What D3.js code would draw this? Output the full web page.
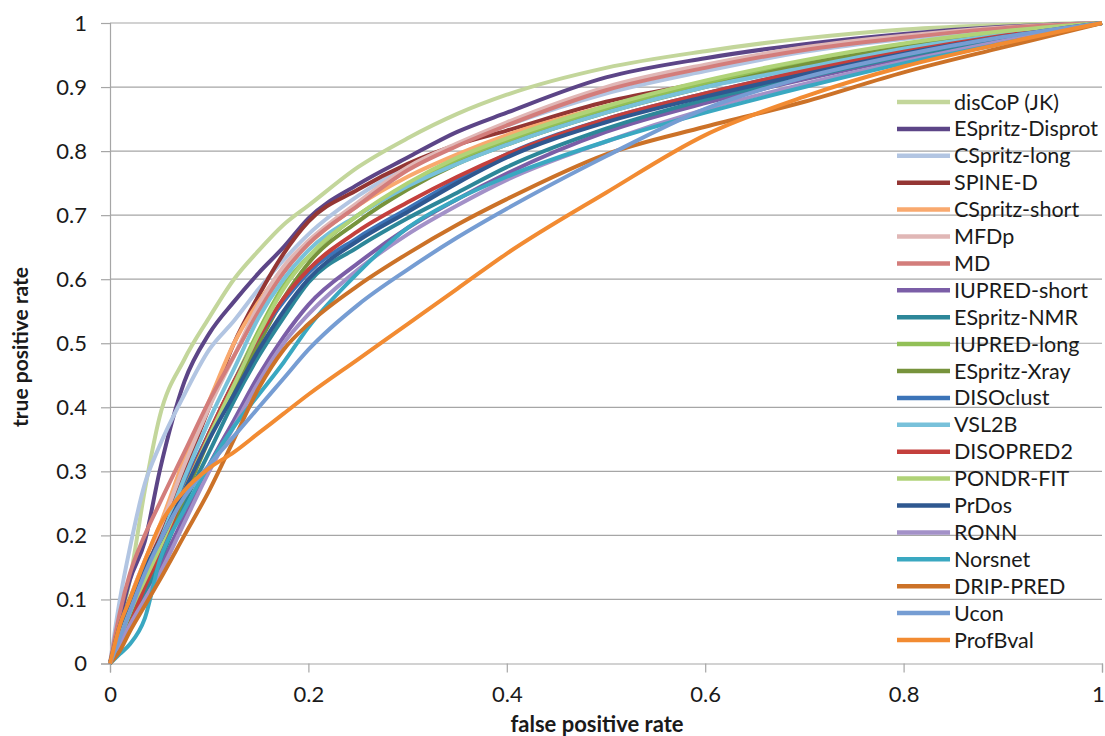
<!DOCTYPE html>
<html>
<head>
<meta charset="utf-8">
<script src="https://cdn.jsdelivr.net/npm/d3@7"></script>
<style>
  body { margin: 0; background: #fff; }
  text { font-family: Lato, "Open Sans", sans-serif; fill: #1a1a1a; }
</style>
</head>
<body>
<div id="chart"></div>
<script>
// false positive rate sample points shared by every curve
const fpr = [0, 0.01, 0.02, 0.035, 0.05, 0.075, 0.1, 0.125, 0.15, 0.175, 0.2, 0.25, 0.3, 0.35, 0.4, 0.5, 0.6, 0.7, 0.8, 0.9, 1];

const names = ["disCoP (JK)", "ESpritz-Disprot", "CSpritz-long", "SPINE-D", "CSpritz-short", "MFDp", "MD",
  "IUPRED-short", "ESpritz-NMR", "IUPRED-long", "ESpritz-Xray", "DISOclust", "VSL2B", "DISOPRED2",
  "PONDR-FIT", "PrDos", "RONN", "Norsnet", "DRIP-PRED", "Ucon", "ProfBval"];

const colors = ["#c3d69b", "#5c4587", "#b2c5e2", "#943634", "#f9a96e", "#e0b7b6", "#d37d7b",
  "#7b5ea7", "#2d8799", "#92c057", "#77933c", "#3c74b8", "#78c1da", "#c4403d",
  "#b0d378", "#2f5890", "#a391c8", "#3aa8c1", "#cc7228", "#769dd3", "#f28b32"];

// true positive rate per method, one value per fpr point
const disCoP        = [0, 0.06, 0.13, 0.27, 0.385, 0.475, 0.54, 0.6, 0.645, 0.685, 0.715, 0.775, 0.82, 0.858, 0.888, 0.93, 0.956, 0.976, 0.99, 0.997, 1];
const espritzDisprot= [0, 0.07, 0.13, 0.19, 0.3, 0.44, 0.515, 0.565, 0.61, 0.65, 0.695, 0.748, 0.79, 0.83, 0.86, 0.915, 0.945, 0.967, 0.983, 0.994, 1];
const cspritzLong   = [0, 0.1, 0.18, 0.28, 0.34, 0.42, 0.49, 0.535, 0.585, 0.63, 0.67, 0.73, 0.775, 0.81, 0.84, 0.89, 0.925, 0.955, 0.975, 0.99, 1];
const spineD        = [0, 0.04, 0.08, 0.14, 0.2, 0.3, 0.4, 0.5, 0.575, 0.64, 0.69, 0.74, 0.78, 0.81, 0.832, 0.877, 0.907, 0.936, 0.96, 0.982, 1];
const cspritzShort  = [0, 0.05, 0.1, 0.16, 0.215, 0.32, 0.41, 0.5, 0.565, 0.615, 0.655, 0.715, 0.76, 0.795, 0.825, 0.87, 0.905, 0.935, 0.962, 0.985, 1];
const mfdp          = [0, 0.05, 0.1, 0.16, 0.21, 0.31, 0.4, 0.48, 0.56, 0.62, 0.66, 0.72, 0.775, 0.812, 0.845, 0.9, 0.935, 0.962, 0.98, 0.993, 1];
const md            = [0, 0.08, 0.14, 0.2, 0.25, 0.33, 0.41, 0.48, 0.55, 0.61, 0.655, 0.715, 0.77, 0.808, 0.84, 0.895, 0.93, 0.958, 0.977, 0.992, 1];
const iupredShort   = [0, 0.03, 0.06, 0.11, 0.15, 0.23, 0.31, 0.38, 0.45, 0.51, 0.56, 0.625, 0.68, 0.725, 0.765, 0.83, 0.875, 0.912, 0.945, 0.973, 1];
const espritzNmr    = [0, 0.03, 0.06, 0.11, 0.16, 0.25, 0.33, 0.41, 0.48, 0.54, 0.595, 0.65, 0.695, 0.735, 0.775, 0.835, 0.88, 0.915, 0.948, 0.975, 1];
const iupredLong    = [0, 0.04, 0.08, 0.13, 0.18, 0.27, 0.36, 0.44, 0.52, 0.59, 0.635, 0.7, 0.745, 0.785, 0.815, 0.865, 0.905, 0.938, 0.965, 0.985, 1];
const espritzXray   = [0, 0.04, 0.07, 0.12, 0.17, 0.26, 0.35, 0.43, 0.5, 0.57, 0.625, 0.69, 0.74, 0.78, 0.81, 0.86, 0.9, 0.935, 0.962, 0.984, 1];
const disoclust     = [0, 0.05, 0.09, 0.14, 0.19, 0.28, 0.36, 0.44, 0.51, 0.565, 0.61, 0.665, 0.71, 0.755, 0.795, 0.85, 0.89, 0.925, 0.955, 0.98, 1];
const vsl2b         = [0, 0.04, 0.08, 0.14, 0.19, 0.29, 0.38, 0.46, 0.54, 0.6, 0.645, 0.7, 0.745, 0.78, 0.81, 0.86, 0.9, 0.93, 0.96, 0.982, 1];
const disopred2     = [0, 0.03, 0.06, 0.12, 0.17, 0.27, 0.36, 0.44, 0.51, 0.57, 0.615, 0.675, 0.72, 0.76, 0.795, 0.85, 0.89, 0.925, 0.955, 0.98, 1];
const pondrFit      = [0, 0.04, 0.08, 0.13, 0.18, 0.27, 0.355, 0.435, 0.515, 0.585, 0.635, 0.7, 0.75, 0.79, 0.82, 0.87, 0.91, 0.942, 0.968, 0.987, 1];
const prdos         = [0, 0.06, 0.1, 0.15, 0.19, 0.27, 0.35, 0.42, 0.49, 0.55, 0.6, 0.66, 0.705, 0.75, 0.79, 0.845, 0.885, 0.92, 0.952, 0.978, 1];
const ronn          = [0, 0.03, 0.06, 0.1, 0.14, 0.22, 0.3, 0.37, 0.44, 0.5, 0.545, 0.615, 0.67, 0.715, 0.755, 0.815, 0.865, 0.905, 0.94, 0.972, 1];
const norsnet       = [0, 0.015, 0.03, 0.07, 0.16, 0.24, 0.31, 0.37, 0.42, 0.47, 0.525, 0.61, 0.68, 0.725, 0.76, 0.815, 0.86, 0.9, 0.937, 0.968, 1];
const dripPred      = [0, 0.02, 0.05, 0.09, 0.13, 0.2, 0.27, 0.35, 0.43, 0.49, 0.53, 0.59, 0.64, 0.685, 0.725, 0.795, 0.838, 0.877, 0.923, 0.962, 1];
const ucon          = [0, 0.04, 0.08, 0.14, 0.19, 0.26, 0.31, 0.355, 0.4, 0.445, 0.49, 0.56, 0.615, 0.665, 0.71, 0.792, 0.866, 0.915, 0.95, 0.978, 1];
const profBval      = [0, 0.06, 0.1, 0.16, 0.215, 0.27, 0.305, 0.33, 0.36, 0.39, 0.42, 0.475, 0.53, 0.585, 0.64, 0.735, 0.825, 0.885, 0.932, 0.968, 1];

const tprSeries = [disCoP, espritzDisprot, cspritzLong, spineD, cspritzShort, mfdp, md, iupredShort,
  espritzNmr, iupredLong, espritzXray, disoclust, vsl2b, disopred2, pondrFit, prdos, ronn,
  norsnet, dripPred, ucon, profBval];

const yTicks = [0, 0.1, 0.2, 0.3, 0.4, 0.5, 0.6, 0.7, 0.8, 0.9, 1];
const xTicks = [0, 0.2, 0.4, 0.6, 0.8, 1];

const W = 1105, H = 736;
const svg = d3.select("#chart").append("svg")
    .attr("width", W)
    .attr("height", H);

const x = d3.scaleLinear().domain([0, 1]).range([110, 1102]);
const y = d3.scaleLinear().domain([0, 1]).range([663.5, 23]);

const tickFmt = d => d === 0 || d === 1 ? d3.format("d")(d) : d3.format(".1f")(d);

// horizontal gridlines
svg.append("g")
  .selectAll("line")
  .data(yTicks.filter(d => d > 0))
  .enter().append("line")
    .attr("x1", x(0)).attr("x2", x(1))
    .attr("y1", d => y(d)).attr("y2", d => y(d))
    .attr("stroke", "#a6a6a6")
    .attr("stroke-width", 1.2);

// Y axis
const yAxis = svg.append("g")
    .attr("transform", `translate(${x(0)},0)`)
    .call(d3.axisLeft(y).tickValues(yTicks).tickSize(9).tickPadding(14).tickFormat(tickFmt));
yAxis.select(".domain").attr("stroke", "#a6a6a6").attr("stroke-width", 1.2);
yAxis.selectAll(".tick line").attr("stroke", "#a6a6a6").attr("stroke-width", 1.2);
yAxis.selectAll(".tick text").style("font-size", "22px").attr("fill", "#1a1a1a");

// X axis
const xAxis = svg.append("g")
    .attr("transform", `translate(0,${y(0)})`)
    .call(d3.axisBottom(x).tickValues(xTicks).tickSize(9).tickPadding(14).tickFormat(tickFmt));
xAxis.select(".domain").attr("stroke", "#a6a6a6").attr("stroke-width", 1.2);
xAxis.selectAll(".tick line").attr("stroke", "#a6a6a6").attr("stroke-width", 1.2);
xAxis.selectAll(".tick text").style("font-size", "22px").attr("fill", "#1a1a1a");
// keep the last label inside the frame
xAxis.selectAll(".tick text").filter(d => d === 1).attr("text-anchor", "end").attr("dx", "0.1em");

// Axis titles
svg.append("text")
    .attr("x", 597)
    .attr("y", 732)
    .attr("text-anchor", "middle")
    .style("font-size", "22px")
    .style("font-weight", "bold")
    .text("false positive rate");

svg.append("text")
    .attr("transform", "rotate(-90)")
    .attr("x", -347)
    .attr("y", 28)
    .attr("text-anchor", "middle")
    .style("font-size", "21px")
    .style("font-weight", "bold")
    .text("true positive rate");

// ROC curves
const line = d3.line()
    .x((d, i) => x(fpr[i]))
    .y(d => y(d))
    .curve(d3.curveMonotoneX);

svg.append("g")
  .selectAll("path")
  .data(tprSeries)
  .enter().append("path")
    .attr("fill", "none")
    .attr("stroke", (d, i) => colors[i])
    .attr("stroke-width", 4)
    .attr("stroke-linejoin", "round")
    .attr("d", line);

// Legend
const legend = svg.append("g")
    .selectAll("g")
    .data(names)
    .enter().append("g")
      .attr("transform", (d, i) => `translate(897,${102 + i * 26.9})`);

legend.append("line")
    .attr("x1", 0).attr("x2", 53)
    .attr("stroke", (d, i) => colors[i])
    .attr("stroke-width", 4.5);

legend.append("text")
    .attr("x", 57)
    .attr("dy", "0.35em")
    .style("font-size", "21.5px")
    .text(d => d);
</script>
</body>
</html>
